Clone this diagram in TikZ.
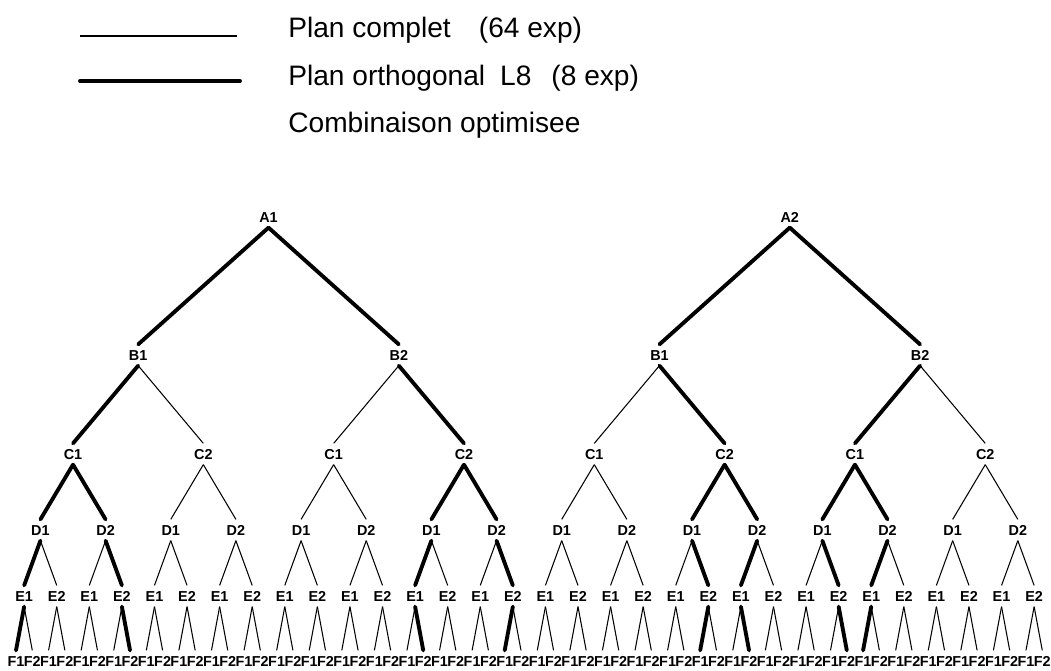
\documentclass[tikz,border=0pt]{standalone}
\usepackage{fontspec}
\setmainfont{Liberation Sans}
\usetikzlibrary{positioning}

\begin{document}
\begin{tikzpicture}[x=0.02cm, y=-0.02cm,
    lvl/.style={font=\fontsize{8.2}{9}\selectfont\bfseries, text height=5.9pt, text depth=0pt,
                inner sep=3.1pt, outer sep=0pt},
    full/.style={line width=0.6pt},
    ortho/.style={line width=2.2pt, line cap=round},
    legtext/.style={anchor=base west, inner sep=0pt, font=\fontsize{16}{19}\selectfont}]
    \useasboundingbox (0,0) rectangle (1051,670);
    % legend
    \coordinate (fullL) at (80,36);
    \coordinate (fullR) at (237,36);
    \coordinate (orthoL) at (80,81);
    \coordinate (orthoR) at (240,81);
    \draw [full] (fullL) -- (fullR);
    \draw [ortho] (orthoL) -- (orthoR);
    \node [legtext] (fulltxt) at (288,37) {Plan complet\hspace{16pt}(64 exp)};
    \node [legtext] (orthotxt) at (288,85) {Plan orthogonal\hspace{8.5pt}L8\hspace{11.4pt}(8 exp)};
    \node [legtext] (opttxt) at (288,132) {Combinaison optimisee};
    % factor levels A..F
    \foreach \dd/\y/\lt in {1/217/A, 2/355/B, 3/454/C, 4/530/D, 5/596/E, 6/661/F} {
        \pgfmathtruncatemacro\n{2^\dd-1}
        \pgfmathsetmacro\w{2^(6-\dd)}
        \foreach \j in {0,...,\n} {
            \pgfmathsetmacro\x{16+16.29*(\j*\w+(\w-1)/2)}
            \pgfmathtruncatemacro\k{mod(\j,2)+1}
            \node [lvl] (n\dd-\j) at (\x,\y) {\lt\k};
        }
    }
    % all 64 runs
    \foreach \dd in {2,...,6} {
        \pgfmathtruncatemacro\n{2^\dd-1}
        \pgfmathtruncatemacro\pd{\dd-1}
        \foreach \j in {0,...,\n} {
            \pgfmathtruncatemacro\p{floor(\j/2)}
            \draw [full] (n\pd-\p.south) -- (n\dd-\j.north);
        }
    }
    % L8 runs
    \foreach \dd/\j in {2/0, 2/1, 2/2, 2/3,
                        3/0, 3/3, 3/5, 3/6,
                        4/0, 4/1, 4/6, 4/7, 4/10, 4/11, 4/12, 4/13,
                        5/0, 5/3, 5/12, 5/15, 5/21, 5/22, 5/25, 5/26,
                        6/0, 6/7, 6/25, 6/30, 6/42, 6/45, 6/51, 6/52} {
        \pgfmathtruncatemacro\pd{\dd-1}
        \pgfmathtruncatemacro\p{floor(\j/2)}
        \draw [ortho] (n\pd-\p.south) -- (n\dd-\j.north);
    }
\end{tikzpicture}
\end{document}
